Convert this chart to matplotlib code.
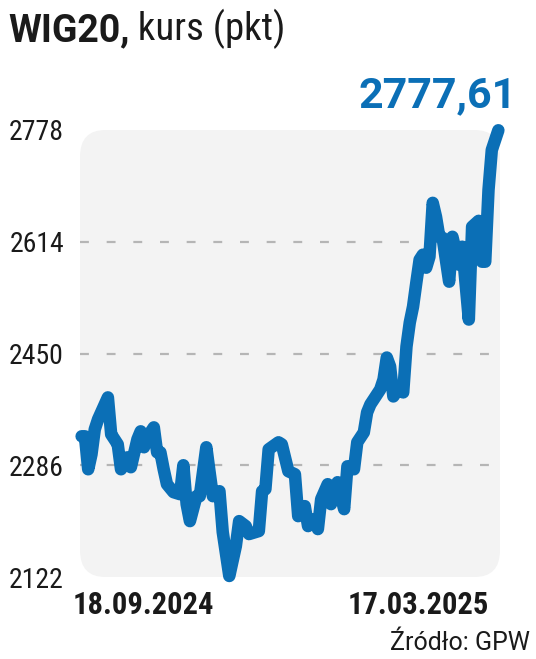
import matplotlib
matplotlib.use("Agg")
import matplotlib.pyplot as plt
from matplotlib import font_manager as fm
from matplotlib.patches import FancyBboxPatch

# WIG20 close (pkt), sessions counted from 18.09.2024
days = [0, 1, 2, 3, 4, 5, 8, 9, 10, 11, 12, 14, 15, 17, 18, 19, 20, 22, 23, 24,
        25, 26, 28, 30, 31, 32, 33, 35, 36, 38, 39, 40, 42, 43, 45, 47, 48, 50, 51, 54,
        55, 56, 57, 60, 61, 63, 65, 66, 68, 69, 71, 72, 73, 75, 76, 78, 80, 81, 83, 84,
        86, 87, 88, 89, 91, 92, 93, 94, 95, 97, 98, 99, 100, 101, 102, 103, 104, 105, 106, 107,
        108, 109, 110, 112, 113, 115, 116, 118, 119, 121, 122, 123, 124, 125, 127]
kurs = [2328.5, 2328.5, 2280.1, 2302.0, 2338.7, 2353.4, 2385.6, 2331.4, 2324.1, 2316.7,
        2280.1, 2297.7, 2283.1, 2324.1, 2335.8, 2312.4, 2327.0, 2341.6, 2305.0, 2305.0,
        2280.1, 2258.2, 2246.5, 2243.5, 2286.0, 2228.9, 2204.0, 2240.6, 2240.6, 2312.4,
        2275.7, 2240.6, 2247.9, 2187.9, 2123.5, 2167.4, 2204.0, 2196.7, 2185.0, 2189.4,
        2247.9, 2250.9, 2309.4, 2319.7, 2316.7, 2277.2, 2272.8, 2211.3, 2226.0, 2196.7,
        2206.9, 2192.3, 2236.2, 2258.2, 2228.9, 2261.1, 2221.6, 2284.5, 2280.1, 2319.7,
        2334.3, 2363.6, 2375.3, 2382.6, 2397.3, 2411.9, 2444.1, 2431.0, 2387.0, 2401.7,
        2392.9, 2460.2, 2495.4, 2518.8, 2554.0, 2587.6, 2595.0, 2575.9, 2592.0, 2671.1,
        2650.6, 2621.3, 2619.9, 2555.4, 2621.3, 2580.3, 2606.7, 2499.8, 2636.0, 2644.7,
        2584.7, 2584.7, 2690.1, 2748.7, 2777.61]

yticks = [2122, 2286, 2450, 2614, 2778]
gridlines = [2286, 2450, 2614]
date_labels = ["18.09.2024", "17.03.2025"]
last_label = "2777,61"

blue = "#0b6fb6"
dark = "#1a1a1a"

names = {f.name for f in fm.fontManager.ttflist}
def pick(*fams):
    for f in fams:
        if f in names:
            return f
    return "DejaVu Sans"

narrow = pick("Roboto Condensed", "Liberation Sans Narrow", "DejaVu Sans")
heavy = pick("Roboto", "Inter", "DejaVu Sans")

W, H = 536, 659
fig = plt.figure(figsize=(W / 100, H / 100), dpi=100)
fig.patch.set_facecolor("white")
ax = fig.add_axes([80 / W, 1 - 577 / H, 420 / W, 447 / H])
ax.set_xlim(-0.5, 127.5)
ax.set_ylim(2122, 2778)
for s in ax.spines.values():
    s.set_visible(False)
ax.patch.set_alpha(0)

panel = FancyBboxPatch((0, 0), 1, 1, boxstyle="round,pad=0,rounding_size=0.06",
                       transform=ax.transAxes, fc="#f3f3f3", ec="none", zorder=0)
ax.add_patch(panel)

ax.hlines(gridlines, -0.5, 127.5, colors="#b5b5b5", lw=1.6, linestyles=(0, (4, 8)), zorder=1)

ax.plot(days, kurs, color=blue, lw=9, solid_capstyle="round",
        solid_joinstyle="round", clip_on=False, zorder=3)

ax.set_xticks([])
ax.set_yticks(yticks)
ax.set_yticklabels([str(t) for t in yticks], fontsize=20, family=narrow, color=dark)
ax.tick_params(left=False, bottom=False, pad=8)

# title
t1 = fig.text(8 / W, 1 - 41 / H, "WIG20,", fontsize=27, fontweight="bold",
              family=heavy, color=dark, va="baseline")
ax.annotate(" kurs (pkt)", xy=(1, 0), xycoords=t1, xytext=(0, 0), textcoords="offset points",
            fontsize=28, family=narrow, color=dark,
            va="bottom", ha="left", annotation_clip=False)

fig.text(517 / W, 1 - 107 / H, last_label, fontsize=31, fontweight="bold",
         family=heavy, color=blue, ha="right", va="baseline")

for xc, lab in zip([143, 418], date_labels):
    fig.text(xc / W, 1 - 614 / H, lab, fontsize=22, fontweight="semibold",
             family=narrow, color=dark, ha="center", va="baseline")

fig.text(530 / W, 1 - 650 / H, "Źródło: GPW", fontsize=18, family=heavy,
         color=dark, ha="right", va="baseline")

fig.savefig("out.png", dpi=100)
